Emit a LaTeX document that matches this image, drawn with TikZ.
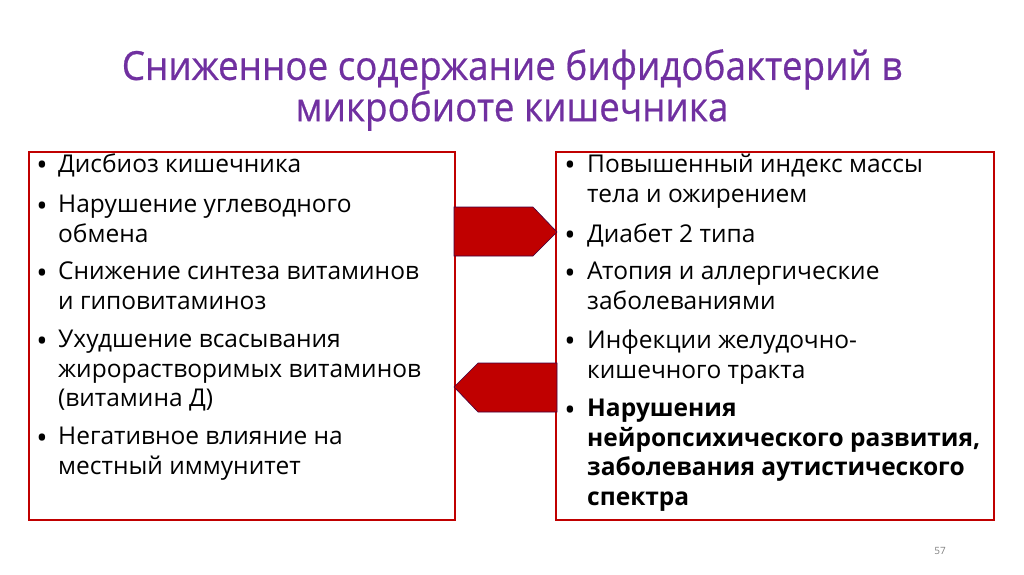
\documentclass[tikz,border=0pt]{standalone}
\usepackage{fontspec}
\setmainfont{Open Sans}
\definecolor{ttl}{RGB}{112,48,160}
\definecolor{dred}{RGB}{192,0,0}
\begin{document}
\begin{tikzpicture}[x=1pt,y=-1pt,
 box/.style={draw=dred,line width=2pt},
 arr/.style={fill=dred,draw=violet!50!black,line width=0.6pt},
 item/.style={align=left,font=\fontsize{24.5}{29.5}\selectfont,inner sep=0pt},
 bul/.style={anchor=center,font=\fontsize{30}{30}\selectfont,inner sep=0pt}]
\useasboundingbox (0,0) rectangle (1024,574);
\node[font=\fontsize{40}{40}\selectfont\addfontfeature{FakeBold=0.6},text=ttl,align=center,xscale=0.92] (title) at (512,90) {Сниженное содержание бифидобактерий в\\микробиоте кишечника};
\draw[box] (29,152) rectangle (455,520);
\draw[box] (556,152) rectangle (994,520);
\path[arr] (454,207) -- (533,207) -- (557,232) -- (533,256) -- (454,256) -- cycle;
\path[arr] (557,363) -- (478,363) -- (454,387) -- (478,412) -- (557,412) -- cycle;
% left
\foreach \y/\t [count=\i] in {168/{Дисбиоз кишечника},
 209/{Нарушение углеводного\\обмена},
 276/{Снижение синтеза витаминов\\и гиповитаминоз},
 344/{Ухудшение всасывания\\жирорастворимых витаминов\\(витамина Д)},
 441/{Негативное влияние на\\местный иммунитет}}{
 \node[bul] (lb\i) at (42,\y) {•};
 \node[item,anchor=north west] (l\i) at (58,\y-14) {\t};
}
% right
\foreach \y/\t [count=\i] in {168/{Повышенный индекс массы\\тела и ожирением},
 238/{Диабет 2 типа},
 276/{Атопия и аллергические\\заболеваниями},
 344/{Инфекции желудочно-\\кишечного тракта},
 413/{\bfseries Нарушения\\\bfseries нейропсихического развития,\\\bfseries заболевания аутистического\\\bfseries спектра}}{
 \node[bul] (rb\i) at (570,\y) {•};
 \node[item,anchor=north west] (r\i) at (587,\y-14) {\t};
}
\node[font=\fontsize{10}{12}\selectfont,text=gray] (pg) at (940,551) {57};
\end{tikzpicture}
\end{document}
